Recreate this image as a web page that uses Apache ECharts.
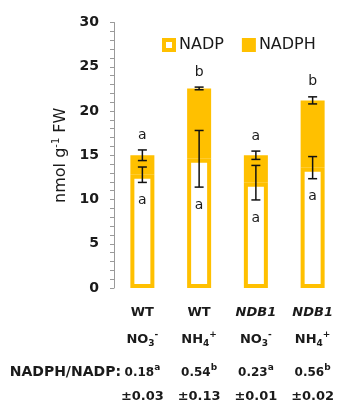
<!DOCTYPE html>
<html><head><meta charset="utf-8">
<script src="https://cdn.jsdelivr.net/npm/echarts@6/dist/echarts.min.js"></script>
<style>html,body{margin:0;padding:0;background:#fff}#c{width:341px;height:403px}</style>
</head><body><div id="c"></div>
<script>
// ---- data ----
const categories = ['WT NO3-', 'WT NH4+', 'NDB1 NO3-', 'NDB1 NH4+'];
const genotype = ['WT', 'WT', 'NDB1', 'NDB1'];
const genotypeItalic = [false, false, true, true];
const ionBase = ['NO', 'NH', 'NO', 'NH'];
const ionSub = ['3', '4', '3', '4'];
const ionCharge = ['-', '+', '-', '+'];
const nadp = [12.8, 14.6, 11.9, 13.6];
const nadph = [2.2, 7.95, 3.1, 7.6];
const nadpErr = [0.87, 3.2, 1.95, 1.25];
const totalErr = [0.6, 0.15, 0.47, 0.4];
const topLetters = ['a', 'b', 'a', 'b'];
const innerLetters = ['a', 'a', 'a', 'a'];
const ratio = ['0.18', '0.54', '0.23', '0.56'];
const ratioLetter = ['a', 'b', 'a', 'b'];
const ratioErr = ['±0.03', '±0.13', '±0.01', '±0.02'];
const yTickLabels = [0, 5, 10, 15, 20, 25, 30];
const ratioTitle = 'NADPH/NADP:';

// ---- style ----
const FONT = 'DejaVu Sans';
const ORANGE = '#FFC000';
const INK = '#1a1a1a';

const base = { fontFamily: FONT, fontWeight: 'bold', fontSize: 13, lineHeight: 18, color: INK };
const richX = {
  b: base,
  r: Object.assign({}, base, { fontSize: 12 }),
  bi: Object.assign({}, base, { fontStyle: 'italic' }),
  sub: Object.assign({}, base, { fontSize: 9, lineHeight: 9, padding: [9, 0, 0, 0] }),
  sup: Object.assign({}, base, { fontSize: 9, lineHeight: 9, padding: [0, 0, 9, 0] })
};

function xAxisRow(margin, fmt) {
  return {
    type: 'category', data: categories, position: 'bottom', gridIndex: 0,
    axisLine: { show: false }, axisTick: { show: false }, splitLine: { show: false },
    axisLabel: { margin: margin, interval: 0, formatter: fmt, rich: richX }
  };
}

const chart = echarts.init(document.getElementById('c'), null, { renderer: 'canvas' });
chart.setOption({
  animation: false,
  backgroundColor: '#fff',
  grid: { left: 114, right: -8, top: 22.5, bottom: 114.5, containLabel: false },
  legend: {
    left: 157, top: 32, itemWidth: 10, itemHeight: 10, itemGap: 18, icon: 'rect',
    textStyle: { fontFamily: FONT, fontSize: 16, color: INK },
    data: [
      { name: 'NADP', itemStyle: { color: '#fff', borderColor: ORANGE, borderWidth: 4 } },
      { name: 'NADPH', itemStyle: { color: ORANGE, borderColor: ORANGE, borderWidth: 4 } }
    ]
  },
  xAxis: [
    xAxisRow(15.5, (v, i) => (genotypeItalic[i] ? '{bi|' : '{b|') + genotype[i] + '}'),
    xAxisRow(42.5, (v, i) => '{b|' + ionBase[i] + '}{sub|' + ionSub[i] + '}{sup|' + ionCharge[i] + '}'),
    xAxisRow(75.5, (v, i) => '{r|' + ratio[i] + '}{sup|' + ratioLetter[i] + '}'),
    xAxisRow(99.5, (v, i) => '{b|' + ratioErr[i] + '}')
  ],
  yAxis: {
    type: 'value', min: 0, max: 30, interval: 1,
    axisLine: { show: true, lineStyle: { color: '#9a9a9a', width: 1 } },
    axisTick: { show: true, length: 4, lineStyle: { color: '#9a9a9a' } },
    splitLine: { show: false },
    axisLabel: {
      margin: 15, fontFamily: FONT, fontWeight: 'bold', fontSize: 14, color: INK,
      formatter: v => (yTickLabels.indexOf(v) >= 0 ? String(v) : '')
    },
    name: 'nmol g{sup|-1} FW', nameLocation: 'middle', nameGap: 36, nameRotate: 90,
    nameTextStyle: {
      fontFamily: FONT, fontSize: 16, color: INK,
      rich: { sup: { fontFamily: FONT, fontSize: 10, color: INK, padding: [0, 0, 8, 0] } }
    }
  },
  graphic: [{
    type: 'text', right: 341 - 121, top: 365,
    style: { text: ratioTitle, fontFamily: FONT, fontWeight: 'bold', fontSize: 14, fill: INK }
  }],
  series: [
    {
      name: 'NADP', type: 'bar', stack: 'total', barWidth: 24, xAxisIndex: 0,
      itemStyle: { color: '#fff', borderColor: ORANGE, borderWidth: 4 },
      emphasis: { disabled: true }, data: nadp
    },
    {
      name: 'NADPH', type: 'bar', stack: 'total', barWidth: 24, xAxisIndex: 0,
      itemStyle: { color: ORANGE, borderColor: ORANGE, borderWidth: 4 },
      emphasis: { disabled: true }, data: nadph
    },
    {
      type: 'custom', xAxisIndex: 0, z: 10, clip: false,
      data: categories.map((c, i) => [i, nadp[i], nadph[i]]),
      renderItem: function (params, api) {
        const i = params.dataIndex;
        const total = nadp[i] + nadph[i];
        const x = api.coord([i, 0])[0];
        const cap = 4.5;
        const st = { stroke: '#111', lineWidth: 1.5 };
        const kids = [];
        function bar(lo, hi) {
          const y1 = api.coord([i, lo])[1], y2 = api.coord([i, hi])[1];
          kids.push({ type: 'line', shape: { x1: x, y1: y1, x2: x, y2: y2 }, style: st });
          kids.push({ type: 'line', shape: { x1: x - cap, y1: y1, x2: x + cap, y2: y1 }, style: st });
          kids.push({ type: 'line', shape: { x1: x - cap, y1: y2, x2: x + cap, y2: y2 }, style: st });
        }
        bar(nadp[i] - nadpErr[i], nadp[i] + nadpErr[i]);
        bar(total - totalErr[i], total + totalErr[i]);
        const yTop = api.coord([i, total + totalErr[i]])[1] - 15;
        const yIn = api.coord([i, nadp[i] - nadpErr[i]])[1] + 18;
        const ts = { fontFamily: FONT, fontSize: 14, fill: INK, align: 'center', verticalAlign: 'middle' };
        kids.push({ type: 'text', x: x, y: yTop, style: Object.assign({ text: topLetters[i] }, ts) });
        kids.push({ type: 'text', x: x, y: yIn, style: Object.assign({ text: innerLetters[i] }, ts) });
        return { type: 'group', children: kids };
      }
    }
  ]
});
</script></body></html>
